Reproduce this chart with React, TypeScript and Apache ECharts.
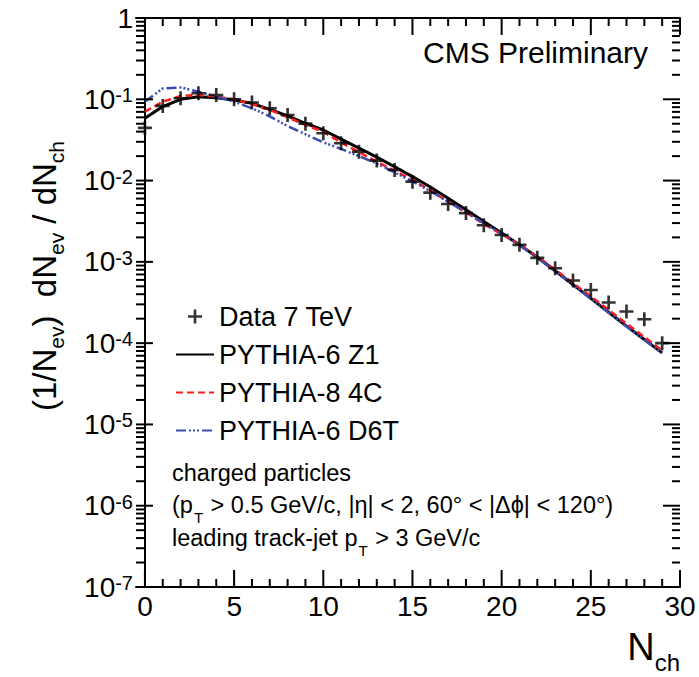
import React, { useEffect, useRef } from 'react';
import * as echarts from 'echarts';

const FONT = '"Liberation Sans", Arial, Helvetica, sans-serif';

// Charged-particle multiplicity bins
const nch = [0, 1, 2, 3, 4, 5, 6, 7, 8, 9, 10, 11, 12, 13, 14, 15, 16, 17, 18, 19, 20, 21, 22, 23, 24, 25, 26, 27, 28, 29];

// Data 7 TeV
const dataValues = [0.0444, 0.0828, 0.103, 0.1186, 0.113, 0.1, 0.0912, 0.0776, 0.0641, 0.0501, 0.0382, 0.0288, 0.0227, 0.0176, 0.0135, 0.0097, 0.0071, 0.00515, 0.00398, 0.00282, 0.00214, 0.00162, 0.00112, 0.000834, 0.000589, 0.000451, 0.000316, 0.000245, 0.000197, 0.0001];

// PYTHIA-6 Z1
const z1Values = [0.0583, 0.0813, 0.1, 0.1076, 0.1047, 0.0982, 0.0891, 0.0753, 0.0624, 0.0506, 0.0419, 0.0324, 0.0251, 0.0194, 0.0148, 0.0112, 0.00832, 0.00605, 0.00437, 0.00313, 0.00226, 0.00162, 0.00114, 0.000776, 0.000525, 0.000355, 0.00024, 0.000162, 0.000111, 0.0000759];

// PYTHIA-8 4C
const c4Values = [0.0705, 0.0933, 0.1096, 0.113, 0.1076, 0.1, 0.0875, 0.0741, 0.0603, 0.0483, 0.0398, 0.0293, 0.0224, 0.0171, 0.0132, 0.0102, 0.00759, 0.0055, 0.00407, 0.00292, 0.00219, 0.00164, 0.00116, 0.000804, 0.00055, 0.000376, 0.000257, 0.000174, 0.000119, 0.0000813];

// PYTHIA-6 D6T
const d6tValues = [0.0933, 0.136, 0.14, 0.124, 0.108, 0.0933, 0.0776, 0.0617, 0.0468, 0.0372, 0.0295, 0.0245, 0.02, 0.0162, 0.0126, 0.00977, 0.00741, 0.0055, 0.00407, 0.00299, 0.00221, 0.0016, 0.00112, 0.000767, 0.000519, 0.000351, 0.000237, 0.00016, 0.00011, 0.000075];

const seriesNames = ['Data 7 TeV', 'PYTHIA-6 Z1', 'PYTHIA-8 4C', 'PYTHIA-6 D6T'];

// Axis ranges and tick positions
const xMin = -0.5;
const xMax = 30;
const yMin = 1e-7;
const yMax = 1;
const xMajorTicks = [0, 5, 10, 15, 20, 25, 30];
const xMinorTicks = [1, 2, 3, 4, 6, 7, 8, 9, 11, 12, 13, 14, 16, 17, 18, 19, 21, 22, 23, 24, 26, 27, 28, 29];
const decadeExponents = [-7, -6, -5, -4, -3, -2, -1, 0];
const minorMantissas = [2, 3, 4, 5, 6, 7, 8, 9];

const yMajorTicks = decadeExponents.map((e) => Math.pow(10, e));
const yMinorTicks: number[] = [];
decadeExponents.slice(0, -1).forEach((e) => minorMantissas.forEach((m) => yMinorTicks.push(m * Math.pow(10, e))));

// Layout (pixels)
const PLOT = { left: 136, right: 19, top: 18, bottom: 90, width: 544, height: 569 };
const MAJOR_LEN = 17;
const MINOR_LEN = 8;
const xUnitsPerPx = (xMax - xMin) / PLOT.width;
const decadesPerPx = (Math.log10(yMax) - Math.log10(yMin)) / PLOT.height;

const PLUS = 'path://M-1,-0.19L1,-0.19L1,0.19L-1,0.19Z M-0.19,-1L0.19,-1L0.19,1L-0.19,1Z';

const richMain = (size: number) => ({ fontSize: size, lineHeight: size, fontFamily: FONT, fontWeight: 'normal', color: '#000', verticalAlign: 'top' });
const richSub = (size: number, drop: number) => ({ fontSize: size, lineHeight: size, fontFamily: FONT, fontWeight: 'normal', color: '#000', verticalAlign: 'top', padding: [drop, 1, 0, 1] });

const tickLine = (name: string, a: number[], b: number[]) => ({
  name, type: 'line', xAxisIndex: 0, yAxisIndex: 0, silent: true,
  data: [a, b], symbol: 'none', showSymbol: false,
  lineStyle: { color: '#000', width: 2 }, itemStyle: { color: '#000' },
  emphasis: { disabled: true }, z: 6, clip: true,
});

const buildTickSeries = () => {
  const out: any[] = [];
  const yTick = (v: number, len: number, tag: string) => {
    const dx = len * xUnitsPerPx;
    out.push(tickLine('ytl' + tag + v, [xMin, v], [xMin + dx, v]));
    out.push(tickLine('ytr' + tag + v, [xMax - dx, v], [xMax, v]));
  };
  const xTick = (v: number, len: number, tag: string) => {
    const f = Math.pow(10, len * decadesPerPx);
    out.push(tickLine('xtb' + tag + v, [v, yMin], [v, yMin * f]));
    out.push(tickLine('xtt' + tag + v, [v, yMax / f], [v, yMax]));
  };
  yMajorTicks.forEach((v) => yTick(v, MAJOR_LEN, 'M'));
  yMinorTicks.forEach((v) => yTick(v, MINOR_LEN, 'm'));
  xMajorTicks.forEach((v) => xTick(v, MAJOR_LEN, 'M'));
  xMinorTicks.forEach((v) => xTick(v, MINOR_LEN, 'm'));
  return out;
};

export default function App() {
  const ref = useRef<HTMLDivElement>(null);
  useEffect(() => {
    const chart = echarts.init(ref.current!, null, { renderer: 'svg' });

    const yLabelFormatter = (v: number) => {
      const e = Math.round(Math.log10(v));
      if (e === 0) return '{b|1}';
      return '{b|10}{s|' + e + '}';
    };

    const frameLine = { show: true, lineStyle: { color: '#000', width: 2 } };

    const option: any = {
      animation: false,
      backgroundColor: '#fff',
      title: [
        {
          text: 'CMS Preliminary', right: 51, top: 37, padding: 0,
          textStyle: { fontSize: 30, fontWeight: 'normal', fontFamily: FONT, color: '#000' },
        },
        {
          text: 'charged particles', left: 172, top: 461, padding: 0,
          textStyle: { fontSize: 23.5, fontWeight: 'normal', fontFamily: FONT, color: '#000' },
        },
        {
          text: '{m|(p}{s|T}{m| > 0.5 GeV/c, |η| < 2, 60° < |Δϕ| < 120°)}', left: 172, top: 493, padding: 0,
          textStyle: { fontWeight: 'normal', rich: { m: richMain(23.5), s: richSub(15, 17) } },
        },
        {
          text: '{m|leading track-jet p}{s|T}{m| > 3 GeV/c}', left: 172, top: 526, padding: 0,
          textStyle: { fontWeight: 'normal', rich: { m: richMain(23.5), s: richSub(15, 17) } },
        },
        {
          text: '{m|N}{s|ch}', right: 19, top: 628, padding: 0,
          textStyle: { fontWeight: 'normal', rich: { m: richMain(38), s: { ...richSub(24, 22), padding: [22, 0, 0, 0] } } },
        },
      ],
      grid: [
        { left: PLOT.left, right: PLOT.right, top: PLOT.top, bottom: PLOT.bottom },
        { left: 145, right: PLOT.right, top: PLOT.top, bottom: PLOT.bottom },
      ],
      xAxis: [
        {
          type: 'value', gridIndex: 0, position: 'bottom', min: xMin, max: xMax,
          axisLine: frameLine, axisTick: { show: false }, axisLabel: { show: false }, splitLine: { show: false },
        },
        {
          type: 'value', gridIndex: 0, position: 'top', min: xMin, max: xMax,
          axisLine: frameLine, axisTick: { show: false }, axisLabel: { show: false }, splitLine: { show: false },
        },
        {
          type: 'value', gridIndex: 1, position: 'bottom', min: 0, max: 30, interval: 5,
          axisLine: { show: false }, axisTick: { show: false }, minorTick: { show: false },
          axisLabel: { show: true, margin: 5, color: '#000', fontSize: 28, fontFamily: FONT },
          splitLine: { show: false },
        },
      ],
      yAxis: [
        {
          type: 'log', logBase: 10, gridIndex: 0, position: 'left', min: yMin, max: yMax,
          name: '{m|(1/N}{s|ev}{m|)  dN}{s|ev}{m| / dN}{s|ch}',
          nameLocation: 'middle', nameRotate: 90, nameGap: 75,
          nameTextStyle: {
            padding: [0, 0, 0, 53],
            rich: { m: richMain(33), s: { ...richSub(21, 18), padding: [18, 0, 0, 0] } },
          },
          axisLine: frameLine, axisTick: { show: false },
          axisLabel: {
            show: true, margin: 3, color: '#000', formatter: yLabelFormatter,
            rich: {
              b: richMain(28),
              s: { fontSize: 20, lineHeight: 20, fontFamily: FONT, color: '#000', verticalAlign: 'top' },
            },
          },
          splitLine: { show: false },
        },
        {
          type: 'log', logBase: 10, gridIndex: 0, position: 'right', min: yMin, max: yMax,
          axisLine: frameLine, axisTick: { show: false }, axisLabel: { show: false }, splitLine: { show: false },
        },
        {
          type: 'log', logBase: 10, gridIndex: 1, min: yMin, max: yMax, show: false,
        },
      ],
      legend: {
        orient: 'vertical', left: 170, top: 298,
        itemWidth: 38, itemHeight: 14, itemGap: 11,
        symbolKeepAspect: true,
        textStyle: { fontSize: 27, color: '#000', fontFamily: FONT },
        data: [
          { name: seriesNames[0] },
          { name: seriesNames[1], itemStyle: { opacity: 0 } },
          { name: seriesNames[2], itemStyle: { opacity: 0 } },
          { name: seriesNames[3], itemStyle: { opacity: 0 } },
        ],
        selectedMode: false,
      },
      series: [
        ...buildTickSeries(),
        {
          name: 'PYTHIA-6 Z1', type: 'line', xAxisIndex: 0, yAxisIndex: 0,
          data: nch.map((n, i) => [n, z1Values[i]]),
          symbol: 'none', lineStyle: { color: '#000', width: 3 }, itemStyle: { color: '#000' }, z: 2,
        },
        {
          name: 'PYTHIA-8 4C', type: 'line', xAxisIndex: 0, yAxisIndex: 0,
          data: nch.map((n, i) => [n, c4Values[i]]),
          symbol: 'none', lineStyle: { color: '#ff1a1a', width: 2.5, type: [7, 4] }, itemStyle: { color: '#ff1a1a' }, z: 3,
        },
        {
          name: 'PYTHIA-6 D6T', type: 'line', xAxisIndex: 0, yAxisIndex: 0,
          data: nch.map((n, i) => [n, d6tValues[i]]),
          symbol: 'none', lineStyle: { color: '#3a4db5', width: 2.5, type: [10, 3, 2, 2, 2, 2, 2, 3] }, itemStyle: { color: '#3a4db5' }, z: 4,
        },
        {
          name: 'Data 7 TeV', type: 'scatter', xAxisIndex: 0, yAxisIndex: 0,
          data: nch.map((n, i) => [n, dataValues[i]]),
          symbol: PLUS, symbolSize: 14, symbolKeepAspect: true,
          itemStyle: { color: '#000' }, z: 5,
        },
      ],
    };

    chart.setOption(option);
    return () => chart.dispose();
  }, []);

  return (
    <div
      ref={ref}
      style={{ position: 'absolute', left: 0, top: 0, width: 699, height: 677, background: '#fff' }}
    />
  );
}
